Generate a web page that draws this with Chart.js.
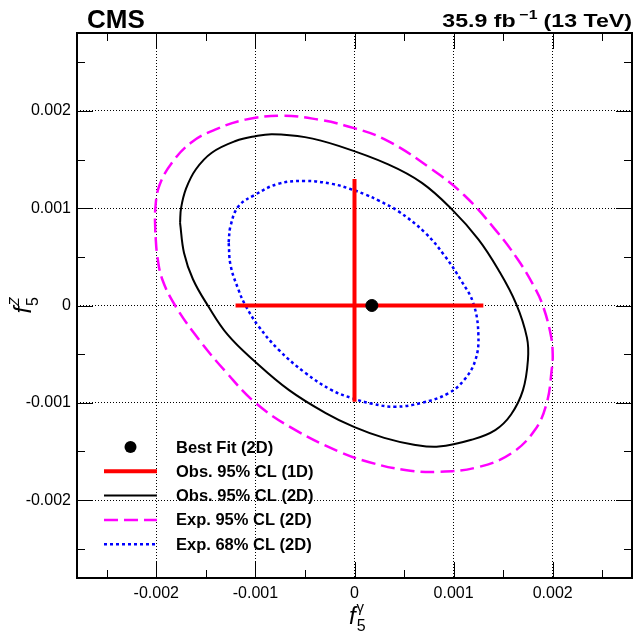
<!DOCTYPE html>
<html>
<head>
<meta charset="utf-8">
<script src="https://cdn.jsdelivr.net/npm/chart.js@4.4.1/dist/chart.umd.min.js"></script>
<style>
  html, body { margin: 0; padding: 0; background: #fff; }
  canvas { display: block; }
</style>
</head>
<body>
<canvas id="limits" width="642" height="634"></canvas>
<script>
// axis ranges and ticks
var axisMin = -0.0028, axisMax = 0.0028;
var majorTicks = [-0.002, -0.001, 0, 0.001, 0.002];
var tickLabels = ['-0.002', '-0.001', '0', '0.001', '0.002'];
var minorTicks = [-0.0025, -0.0015, -0.0005, 0.0005, 0.0015, 0.0025];

// best fit and 1D intervals
var bestFit = [[0.000175, 0]];
var obs1dH = [[-0.0012, 0], [0.0013, 0]];
var obs1dV = [[0, 0.0013], [0, -0.00099]];

// observed 95% CL contour (2D)
var obs2d = [
  [-0.00176, 0.00085], [-0.00175, 0.00100], [-0.00170, 0.00120], [-0.00160, 0.00140],
  [-0.00144, 0.00157], [-0.00120, 0.00169], [-0.00100, 0.00174], [-0.00083, 0.00176],
  [-0.00050, 0.00173], [-0.00016, 0.00164], [0.00034, 0.00145], [0.00068, 0.00126],
  [0.00098, 0.00099], [0.00125, 0.00068], [0.00145, 0.00037], [0.00163, 0.00002],
  [0.00174, -0.00033], [0.00175, -0.00056], [0.00170, -0.00087], [0.00158, -0.00112],
  [0.00142, -0.00128], [0.00118, -0.00138], [0.00085, -0.00145], [0.00060, -0.00143],
  [0.00030, -0.00136], [0.00000, -0.00125], [-0.00030, -0.00110], [-0.00066, -0.00087],
  [-0.00100, -0.00058], [-0.00128, -0.00030], [-0.00148, 0.00000], [-0.00163, 0.00027],
  [-0.00172, 0.00054]
];

// expected 95% CL contour (2D)
var exp95 = [
  [-0.00201, 0.00075], [-0.00201, 0.00099], [-0.00197, 0.00123], [-0.00184, 0.00147],
  [-0.00164, 0.00168], [-0.00140, 0.00181], [-0.00110, 0.00191], [-0.00073, 0.00195],
  [-0.00036, 0.00191], [-0.00010, 0.00185], [0.00030, 0.00171], [0.00078, 0.00140],
  [0.00111, 0.00113], [0.00142, 0.00078], [0.00165, 0.00047], [0.00181, 0.00020],
  [0.00190, 0.00000], [0.00198, -0.00030], [0.00200, -0.00050], [0.00199, -0.00066],
  [0.00194, -0.00100], [0.00182, -0.00128], [0.00158, -0.00152], [0.00125, -0.00166],
  [0.00085, -0.00171], [0.00051, -0.00169], [0.00015, -0.00161], [-0.00016, -0.00150],
  [-0.00063, -0.00126], [-0.00100, -0.00100], [-0.00130, -0.00068], [-0.00157, -0.00035],
  [-0.00181, 0.00000], [-0.00194, 0.00027], [-0.00199, 0.00051]
];

// expected 68% CL contour (2D)
var exp68 = [
  [-0.00127, 0.00065], [-0.00125, 0.00082], [-0.00117, 0.00102], [-0.00100, 0.00114],
  [-0.00077, 0.00125], [-0.00050, 0.00128], [-0.00023, 0.00125], [-0.00005, 0.00120],
  [0.00011, 0.00114], [0.00024, 0.00108], [0.00044, 0.00097], [0.00071, 0.00075],
  [0.00091, 0.00051], [0.00108, 0.00025], [0.00120, 0.00002], [0.00125, -0.00030],
  [0.00122, -0.00056], [0.00111, -0.00076], [0.00095, -0.00090], [0.00068, -0.00100],
  [0.00041, -0.00104], [0.00018, -0.00101], [-0.00003, -0.00095], [-0.00023, -0.00087],
  [-0.00050, -0.00069], [-0.00077, -0.00045], [-0.00097, -0.00021], [-0.00110, 0.00000],
  [-0.00117, 0.00016], [-0.00125, 0.00041]
];

var legendLabels = ['Best Fit (2D)', 'Obs. 95% CL (1D)', 'Obs. 95% CL (2D)', 'Exp. 95% CL (2D)', 'Exp. 68% CL (2D)'];

function pts(list) {
  return list.map(function(p) { return { x: p[0], y: p[1] }; });
}
function loop(list) {
  return pts(list.concat([list[0]]));
}

var FONT = "'Liberation Sans', Arial, Helvetica, sans-serif";

// draws a run of text pieces (base, sub, superscript) starting at x
function drawPieces(ctx, pieces, x, y, align) {
  var w = 0;
  pieces.forEach(function(p) { ctx.font = p.font; w += ctx.measureText(p.t).width + (p.gap || 0); });
  var cx = align === 'right' ? x - w : (align === 'center' ? x - w / 2 : x);
  pieces.forEach(function(p) {
    ctx.font = p.font;
    ctx.fillText(p.t, cx + (p.dx || 0), y + (p.dy || 0));
    cx += ctx.measureText(p.t).width + (p.gap || 0);
  });
}

var decorations = {
  id: 'decorations',
  afterDraw: function(chart) {
    var ctx = chart.ctx, a = chart.chartArea;
    var xs = chart.scales.x, ys = chart.scales.y;
    ctx.save();

    // inward ticks on all four sides
    ctx.strokeStyle = '#000';
    ctx.lineWidth = 1;
    function ticks(values, len) {
      values.forEach(function(v) {
        var px = Math.round(xs.getPixelForValue(v)) + 0.5;
        var py = Math.round(ys.getPixelForValue(v)) + 0.5;
        ctx.beginPath();
        ctx.moveTo(px, a.bottom); ctx.lineTo(px, a.bottom - len);
        ctx.moveTo(px, a.top); ctx.lineTo(px, a.top + len);
        ctx.moveTo(a.left, py); ctx.lineTo(a.left + len, py);
        ctx.moveTo(a.right, py); ctx.lineTo(a.right - len, py);
        ctx.stroke();
      });
    }
    ticks(majorTicks, 16);
    ticks(minorTicks, 8);

    // frame
    ctx.lineWidth = 2;
    ctx.strokeRect(a.left, a.top, a.right - a.left, a.bottom - a.top);

    // headers
    ctx.fillStyle = '#000';
    ctx.textBaseline = 'alphabetic';
    ctx.textAlign = 'left';
    ctx.font = 'bold 26px ' + FONT;
    ctx.fillText('CMS', a.left + 10, 28);

    ctx.save();
    ctx.translate(a.right, 27);
    ctx.scale(1.22, 1);
    drawPieces(ctx, [
      { t: '35.9 fb', font: 'bold 19px ' + FONT, gap: 3 },
      { t: '\u22121', font: 'bold 13px ' + FONT, dy: -8, gap: 5 },
      { t: '(13 TeV)', font: 'bold 19px ' + FONT }
    ], 0, 0, 'right');
    ctx.restore();

    // axis titles
    var title = function(sup) {
      return [
        { t: 'f', font: 'italic 24px ' + FONT, gap: 1 },
        { t: '5', font: '16px ' + FONT, dy: 7, gap: -9 },
        { t: sup, font: sup === 'Z' ? 'italic 14px ' + FONT : '15px ' + FONT, dy: -12 }
      ];
    };
    drawPieces(ctx, title('\u03b3'), (a.left + a.right) / 2 + 2, 624, 'center');
    ctx.save();
    ctx.translate(31, (a.top + a.bottom) / 2);
    ctx.rotate(-Math.PI / 2);
    drawPieces(ctx, title('Z'), 0, 0, 'center');
    ctx.restore();

    // legend
    var rowY = 447, rowStep = 24.3, x0 = 104, x1 = 157;
    chart.data.datasets.forEach(function(ds) {
      if (ds.legendRow === undefined) return;
      var y = rowY + ds.legendRow * rowStep;
      ctx.save();
      if (ds.showLine) {
        ctx.strokeStyle = ds.borderColor;
        ctx.lineWidth = ds.borderWidth;
        ctx.setLineDash(ds.borderDash || []);
        ctx.beginPath();
        ctx.moveTo(x0, y); ctx.lineTo(x1, y);
        ctx.stroke();
      } else {
        ctx.fillStyle = ds.backgroundColor;
        ctx.beginPath();
        ctx.arc((x0 + x1) / 2, y, ds.pointRadius, 0, Math.PI * 2);
        ctx.fill();
      }
      ctx.restore();
      ctx.fillStyle = '#000';
      ctx.font = 'bold 16.5px ' + FONT;
      ctx.textBaseline = 'middle';
      ctx.fillText(ds.label, 176, y + 1);
    });

    ctx.restore();
  }
};

function axis(pos) {
  return {
    type: 'linear',
    position: pos,
    min: axisMin,
    max: axisMax,
    afterBuildTicks: function(s) { s.ticks = majorTicks.map(function(v) { return { value: v }; }); },
    afterFit: function(s) {
      if (pos === 'left') s.width = 70; else s.height = 56;
    },
    grid: { color: '#000', lineWidth: 1, drawTicks: false },
    border: { display: false, dash: [1, 2] },
    ticks: {
      color: '#000',
      padding: 6,
      font: { family: FONT, size: 16 },
      callback: function(v, i) { return tickLabels[i]; }
    }
  };
}

new Chart(document.getElementById('limits'), {
  type: 'scatter',
  data: {
    datasets: [
      { label: legendLabels[0], legendRow: 0, data: pts(bestFit), backgroundColor: '#000', borderColor: '#000',
        pointRadius: 6, pointHoverRadius: 6, showLine: false },
      { label: legendLabels[1], legendRow: 1, data: pts(obs1dH), borderColor: '#ff0000', borderWidth: 4,
        pointRadius: 0, showLine: true },
      { label: legendLabels[1], data: pts(obs1dV), borderColor: '#ff0000', borderWidth: 4,
        pointRadius: 0, showLine: true },
      { label: legendLabels[2], legendRow: 2, data: loop(obs2d), borderColor: '#000', borderWidth: 2,
        pointRadius: 0, showLine: true, tension: 0.4 },
      { label: legendLabels[3], legendRow: 3, data: loop(exp95), borderColor: '#ff00ff', borderWidth: 2.5,
        borderDash: [14, 6], pointRadius: 0, showLine: true, tension: 0.4 },
      { label: legendLabels[4], legendRow: 4, data: loop(exp68), borderColor: '#0000ff', borderWidth: 2.5,
        borderDash: [3, 3], pointRadius: 0, showLine: true, tension: 0.4 }
    ]
  },
  options: {
    responsive: false,
    animation: false,
    layout: { padding: { left: 7, right: 10, top: 33, bottom: 0 } },
    plugins: { legend: { display: false }, tooltip: { enabled: false } },
    scales: { x: axis('bottom'), y: axis('left') }
  },
  plugins: [decorations]
});
</script>
</body>
</html>
